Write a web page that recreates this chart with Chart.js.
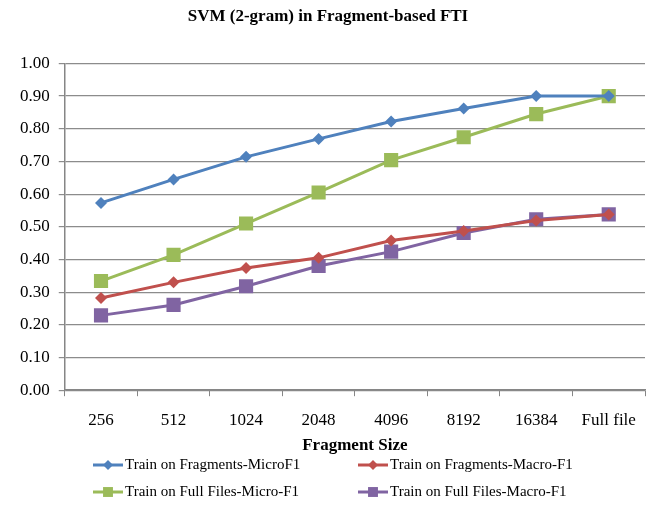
<!DOCTYPE html>
<html lang="en">
<head>
    <meta charset="UTF-8">
    <title>SVM (2-gram) in Fragment-based FTI</title>
    <script src="https://cdn.jsdelivr.net/npm/chart.js@4.4.0/dist/chart.umd.min.js"></script>
    <style>
        html, body { margin: 0; padding: 0; background: #ffffff; }
        #wrap { position: relative; width: 667px; height: 505px; }
    </style>
</head>
<body>
    <div id="wrap"><canvas id="svmChart"></canvas></div>

    <script>
        // Data
        const fragmentSizes = ['256', '512', '1024', '2048', '4096', '8192', '16384', 'Full file'];
        const fragMicroF1 = [0.573, 0.645, 0.714, 0.769, 0.822, 0.862, 0.900, 0.900];
        const fragMacroF1 = [0.282, 0.330, 0.374, 0.405, 0.458, 0.487, 0.519, 0.538];
        const fullMicroF1 = [0.334, 0.414, 0.510, 0.605, 0.704, 0.774, 0.845, 0.900];
        const fullMacroF1 = [0.229, 0.261, 0.318, 0.380, 0.424, 0.481, 0.523, 0.538];

        const serif = "'Liberation Serif', 'Times New Roman', serif";

        function series(label, data, color, marker, size) {
            return {
                label: label,
                data: data,
                borderColor: color,
                backgroundColor: color,
                borderWidth: 3,
                pointStyle: marker,
                pointRadius: size,
                pointHoverRadius: size,
                pointBorderWidth: 0,
                tension: 0
            };
        }

        // legend drawn under the axis title: two columns, line + marker
        const bottomLegend = {
            id: 'bottomLegend',
            afterDraw(chart) {
                const ctx = chart.ctx;
                const cols = [93, 358];
                const rows = [465, 492];
                ctx.save();
                ctx.font = '15px ' + serif;
                ctx.textBaseline = 'middle';
                chart.data.datasets.forEach((ds, i) => {
                    const x = cols[i % 2];
                    const y = rows[Math.floor(i / 2)];
                    ctx.strokeStyle = ds.borderColor;
                    ctx.lineWidth = 3;
                    ctx.beginPath();
                    ctx.moveTo(x, y);
                    ctx.lineTo(x + 30, y);
                    ctx.stroke();
                    ctx.fillStyle = ds.borderColor;
                    Chart.helpers.drawPoint(ctx, {
                        pointStyle: ds.pointStyle,
                        radius: ds.pointStyle === 'rect' ? 7 : 5,
                        borderWidth: 0
                    }, x + 15, y);
                    ctx.fillStyle = '#000000';
                    ctx.textAlign = 'left';
                    ctx.fillText(ds.label, x + 32, y);
                });
                ctx.restore();
            }
        };

        new Chart(document.getElementById('svmChart'), {
            type: 'line',
            data: {
                labels: fragmentSizes,
                datasets: [
                    series('Train on Fragments-MicroF1', fragMicroF1, '#4F81BD', 'rectRot', 6),
                    series('Train on Fragments-Macro-F1', fragMacroF1, '#C0504D', 'rectRot', 6),
                    series('Train on Full Files-Micro-F1', fullMicroF1, '#9BBB59', 'rect', 10),
                    series('Train on Full Files-Macro-F1', fullMacroF1, '#8064A2', 'rect', 10)
                ]
            },
            options: {
                responsive: true,
                maintainAspectRatio: false,
                animation: false,
                layout: { padding: { left: 11, right: 22, top: 4, bottom: 49 } },
                scales: {
                    x: {
                        offset: true,
                        grid: {
                            offset: true,
                            drawOnChartArea: false,
                            drawTicks: true,
                            tickLength: 6,
                            color: '#868686'
                        },
                        border: { color: '#868686', width: 1.5 },
                        ticks: { color: '#000000', font: { family: serif, size: 17 }, padding: 14, maxRotation: 0 },
                        title: {
                            display: true,
                            text: 'Fragment Size',
                            color: '#000000',
                            font: { family: serif, size: 17, weight: 'bold' },
                            padding: { top: -9, bottom: 0 }
                        }
                    },
                    y: {
                        min: 0,
                        max: 1,
                        grid: { color: '#8c8c8c', lineWidth: 1.2, tickLength: 6 },
                        border: { color: '#868686', width: 1.5 },
                        ticks: {
                            stepSize: 0.1,
                            color: '#000000',
                            font: { family: serif, size: 17 },
                            padding: 9,
                            callback: v => v.toFixed(2)
                        }
                    }
                },
                plugins: {
                    legend: { display: false },
                    tooltip: { enabled: false },
                    title: {
                        display: true,
                        text: 'SVM (2-gram) in Fragment-based FTI',
                        color: '#000000',
                        font: { family: serif, size: 17, weight: 'bold' },
                        padding: { top: 2, bottom: 37 }
                    }
                }
            },
            plugins: [bottomLegend]
        });
    </script>
</body>
</html>
